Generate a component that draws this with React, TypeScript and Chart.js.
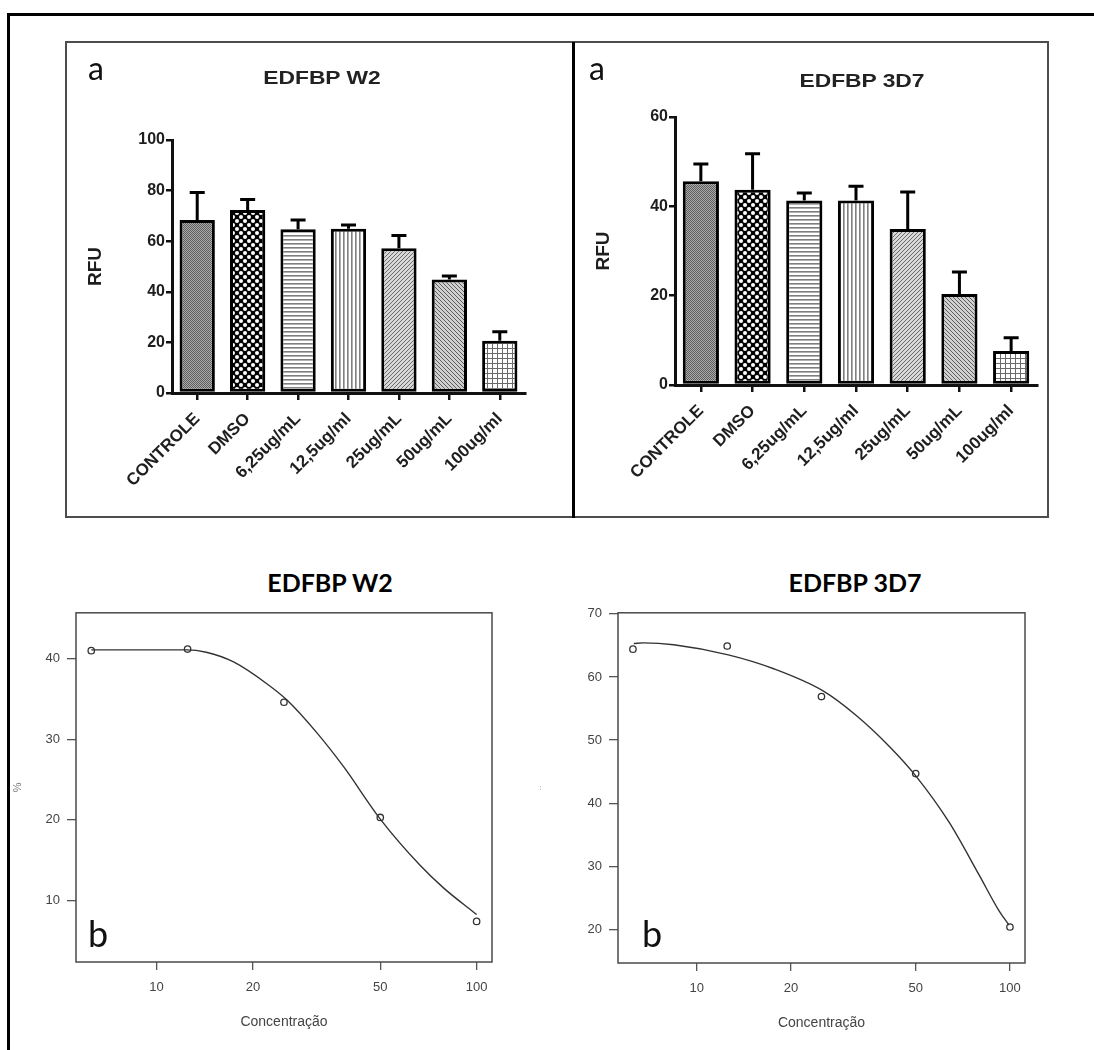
import React, { useEffect, useRef } from 'react';
import { Chart, registerables } from 'chart.js';
Chart.register(...registerables);

// ---------- DATA ----------
const barCategories = ['CONTROLE', 'DMSO', '6,25ug/mL', '12,5ug/ml', '25ug/mL', '50ug/mL', '100ug/ml'];
const w2BarMeans = [68.4, 72.3, 64.7, 64.9, 57.2, 44.9, 20.7];
const w2BarErrors = [10.8, 4.2, 3.7, 1.5, 5.1, 1.3, 3.5];
const d7BarMeans = [45.6, 43.7, 41.3, 41.3, 34.9, 20.4, 7.6];
const d7BarErrors = [3.9, 8.1, 1.7, 3.2, 8.3, 4.9, 3.0];
const w2BarTicks = [0, 20, 40, 60, 80, 100];
const d7BarTicks = [0, 20, 40, 60];

const concentrations = [6.25, 12.5, 25, 50, 100];
const w2Percent = [41.0, 41.2, 34.6, 20.3, 7.4];
const d7Percent = [64.4, 64.9, 56.9, 44.7, 20.4];
const w2CurveConc = [6.25, 9, 12.4, 14.3, 17.4, 22.1, 25.5, 31.7, 38.4, 50, 66.8, 79.1, 100];
const w2CurveValues = [41.1, 41.1, 41.1, 40.8, 39.6, 36.9, 34.9, 30.8, 26.6, 20.1, 14.3, 11.5, 8.25];
const d7CurveConc = [6.29, 6.76, 8.44, 12.6, 17.6, 25.3, 32.3, 41.2, 50.1, 63.9, 79.6, 92.2, 99.3];
const d7CurveValues = [65.3, 65.4, 65.1, 63.5, 61.3, 57.8, 53.9, 49.0, 44.3, 37.0, 28.7, 23.0, 20.7];
const logTicks = [10, 20, 50, 100];
const w2LineTicks = [10, 20, 30, 40];
const d7LineTicks = [20, 30, 40, 50, 60, 70];

const patternKinds = ['dense', 'dots', 'hlines', 'vlines', 'diagUp', 'diagDown', 'grid'];

// ---------- PATTERNS ----------
function makePattern(ctx: CanvasRenderingContext2D, kind: string): CanvasPattern {
  const c = document.createElement('canvas');
  const px = (g: CanvasRenderingContext2D, x: number, y: number, col: string, w = 1, h = 1) => {
    g.fillStyle = col;
    g.fillRect(x, y, w, h);
  };
  let g: CanvasRenderingContext2D;
  if (kind === 'dense') {
    c.width = 2; c.height = 2; g = c.getContext('2d')!;
    px(g, 0, 0, '#5e5e5e'); px(g, 1, 1, '#5e5e5e'); px(g, 1, 0, '#ababab'); px(g, 0, 1, '#ababab');
  } else if (kind === 'dots') {
    c.width = 8; c.height = 8; g = c.getContext('2d')!;
    px(g, 0, 0, '#000', 8, 8);
    g.fillStyle = '#fff';
    [[2, 2], [6, 6]].forEach(([x, y]) => { g.beginPath(); g.arc(x, y, 2, 0, Math.PI * 2); g.fill(); });
  } else if (kind === 'hlines') {
    c.width = 1; c.height = 4; g = c.getContext('2d')!;
    px(g, 0, 0, '#fff', 1, 4); px(g, 0, 0, '#808080'); px(g, 0, 1, '#b0b0b0');
  } else if (kind === 'vlines') {
    c.width = 4; c.height = 1; g = c.getContext('2d')!;
    px(g, 0, 0, '#fff', 4, 1); px(g, 0, 0, '#808080'); px(g, 1, 0, '#b0b0b0');
  } else if (kind === 'diagUp') {
    c.width = 4; c.height = 4; g = c.getContext('2d')!;
    px(g, 0, 0, '#d8d8d8', 4, 4);
    for (let i = 0; i < 4; i++) px(g, i, 3 - i, '#6a6a6a');
  } else if (kind === 'diagDown') {
    c.width = 4; c.height = 4; g = c.getContext('2d')!;
    px(g, 0, 0, '#d0d0d0', 4, 4);
    for (let i = 0; i < 4; i++) px(g, i, i, '#5e5e5e');
  } else {
    c.width = 5; c.height = 5; g = c.getContext('2d')!;
    px(g, 0, 0, '#fff', 5, 5); px(g, 0, 0, '#6a6a6a', 5, 1); px(g, 0, 0, '#6a6a6a', 1, 5);
  }
  return ctx.createPattern(c, 'repeat')!;
}

// ---------- PLUGINS ----------
const errorBarPlugin = {
  id: 'errorBars',
  afterDatasetsDraw(chart: any, _args: any, opts: any) {
    const errs: number[] = opts.errors || [];
    const meta = chart.getDatasetMeta(0);
    const y = chart.scales.y;
    const ctx = chart.ctx;
    ctx.save();
    ctx.strokeStyle = '#000';
    ctx.lineWidth = 3;
    meta.data.forEach((bar: any, i: number) => {
      const v = chart.data.datasets[0].data[i];
      const base = y.getPixelForValue(v);
      const top = y.getPixelForValue(v + errs[i]);
      ctx.beginPath();
      ctx.moveTo(bar.x, base);
      ctx.lineTo(bar.x, top);
      ctx.moveTo(bar.x - 7.5, top);
      ctx.lineTo(bar.x + 7.5, top);
      ctx.stroke();
    });
    ctx.restore();
  },
};

const framePlugin = {
  id: 'frame',
  afterDraw(chart: any) {
    const { left, top, right, bottom } = chart.chartArea;
    const ctx = chart.ctx;
    ctx.save();
    ctx.strokeStyle = '#4a4a4a';
    ctx.lineWidth = 1.5;
    ctx.strokeRect(left, top, right - left, bottom - top);
    ctx.restore();
  },
};

// ---------- CONFIG BUILDERS ----------
const boldFont = "'Liberation Sans', Arial, sans-serif";

function barConfig(ctx: CanvasRenderingContext2D, means: number[], errors: number[], ticks: number[], max: number, dims: any) {
  const patterns = patternKinds.map((k) => makePattern(ctx, k));
  return {
    type: 'bar',
    data: {
      labels: barCategories,
      datasets: [
        {
          data: means,
          backgroundColor: patterns,
          borderColor: '#000',
          borderWidth: 3,
          borderSkipped: false,
          categoryPercentage: 0.7,
          barPercentage: 1,
        },
      ],
    },
    options: {
      responsive: false,
      animation: false,
      devicePixelRatio: 1,
      layout: { padding: { left: 0, right: dims.padRight, top: dims.padTop, bottom: 0 } },
      plugins: {
        legend: { display: false },
        tooltip: { enabled: false },
        errorBars: { errors },
      },
      scales: {
        x: {
          type: 'category',
          offset: true,
          grid: { offset: false, drawOnChartArea: false, tickLength: 7, color: '#111', lineWidth: 2.5 },
          border: { color: '#111', width: 3 },
          ticks: {
            minRotation: 45,
            maxRotation: 45,
            autoSkip: false,
            padding: 9,
            color: '#1e1e1e',
            font: { family: boldFont, size: 17, weight: 'bold' },
          },
          afterFit: (s: any) => { s.height = dims.xHeight; },
        },
        y: {
          min: 0,
          max,
          afterBuildTicks: (s: any) => { s.ticks = ticks.map((v) => ({ value: v })); },
          grid: { drawOnChartArea: false, tickLength: 6, color: '#111', lineWidth: 2.5 },
          border: { color: '#111', width: 3 },
          ticks: { padding: 1, color: '#1e1e1e', font: { family: boldFont, size: 16, weight: 'bold' } },
          title: {
            display: true,
            text: 'RFU',
            color: '#1e1e1e',
            font: { family: boldFont, size: 19, weight: 'bold' },
            padding: { top: dims.titlePad, bottom: 0 },
          },
          afterFit: (s: any) => { s.width = dims.yWidth; },
        },
      },
    },
    plugins: [errorBarPlugin],
  };
}

function curveConfig(points: number[], curveX: number[], curveY: number[], yTicks: number[], ymin: number, ymax: number, dims: any) {
  const tickFont = { family: dims.fontFamily, size: 13 };
  return {
    type: 'scatter',
    data: {
      datasets: [
        {
          data: curveX.map((x, i) => ({ x, y: curveY[i] })),
          showLine: true,
          pointRadius: 0,
          borderColor: '#333',
          borderWidth: 1.4,
          cubicInterpolationMode: 'monotone',
          fill: false,
        },
        {
          data: concentrations.map((x, i) => ({ x, y: points[i] })),
          showLine: false,
          pointRadius: 3.2,
          pointBorderWidth: 1.3,
          pointBorderColor: '#333',
          pointBackgroundColor: 'rgba(255,255,255,0)',
        },
      ],
    },
    options: {
      responsive: false,
      animation: false,
      devicePixelRatio: 1,
      layout: { padding: { left: 0, right: dims.padRight, top: dims.padTop, bottom: 0 } },
      plugins: { legend: { display: false }, tooltip: { enabled: false } },
      scales: {
        x: {
          type: 'logarithmic',
          min: 5.6,
          max: 111.7,
          afterBuildTicks: (s: any) => { s.ticks = logTicks.map((v) => ({ value: v })); },
          grid: { drawOnChartArea: false, tickLength: 8, color: '#555', lineWidth: 1.3 },
          border: { display: false },
          ticks: { callback: (v: any) => String(v), maxRotation: 0, autoSkip: false, padding: 10, color: '#444', font: tickFont },
          title: {
            display: true,
            text: 'Concentração',
            color: '#444',
            font: { family: dims.fontFamily, size: 14 },
            padding: { top: 0, bottom: dims.xTitlePad },
          },
          afterFit: (s: any) => { s.height = dims.xHeight; },
        },
        y: {
          min: ymin,
          max: ymax,
          afterBuildTicks: (s: any) => { s.ticks = yTicks.map((v) => ({ value: v })); },
          grid: { drawOnChartArea: false, tickLength: 9, color: '#555', lineWidth: 1.3 },
          border: { display: false },
          ticks: { padding: 7, color: '#444', font: tickFont },
          title: {
            display: true,
            text: dims.yTitle,
            color: '#777',
            font: { family: 'Liberation Sans, sans-serif', size: dims.yTitleSize },
            padding: { top: dims.yTitlePad, bottom: 0 },
          },
          afterFit: (s: any) => { s.width = dims.yWidth; },
        },
      },
    },
    plugins: [framePlugin],
  };
}

// ---------- COMPONENTS ----------
function ChartCanvas({ left, top, width, height, build }: any) {
  const ref = useRef<HTMLCanvasElement>(null);
  useEffect(() => {
    const canvas = ref.current!;
    const ctx = canvas.getContext('2d')!;
    const chart = new Chart(canvas, build(ctx));
    return () => chart.destroy();
  }, []);
  return (
    <canvas
      ref={ref}
      width={width}
      height={height}
      style={{ position: 'absolute', left, top, width, height }}
    />
  );
}

function Label({ x, y, text, style, sx = 1 }: any) {
  return (
    <div
      style={{
        position: 'absolute',
        left: x,
        top: y,
        transform: `translate(-50%, -50%) scaleX(${sx})`,
        whiteSpace: 'nowrap',
        lineHeight: 1,
        ...style,
      }}
    >
      {text}
    </div>
  );
}

export default function App() {
  const topTitle = { fontFamily: boldFont, fontWeight: 'bold', fontSize: 19, color: '#222' };
  const bottomTitle = { fontFamily: 'Lato, "Open Sans", sans-serif', fontWeight: 'bold', fontSize: 25, color: '#000' };
  const letterA = { fontFamily: 'Lato, "Open Sans", sans-serif', fontSize: 32, color: '#111' };
  const letterB = { fontFamily: 'Lato, "Open Sans", sans-serif', fontSize: 36, color: '#111' };
  return (
    <div style={{ position: 'absolute', left: 0, top: 0, width: 1094, height: 1050, background: '#fff', overflow: 'hidden' }}>
      {/* outer frame */}
      <div style={{ position: 'absolute', left: 7, top: 13, width: 1087, height: 3, background: '#000' }} />
      <div style={{ position: 'absolute', left: 7, top: 13, width: 3, height: 1037, background: '#000' }} />
      {/* top panel box */}
      <div style={{ position: 'absolute', left: 65, top: 41, width: 980, height: 473, border: '2px solid #4d4d4d' }} />
      <div style={{ position: 'absolute', left: 572, top: 42, width: 3, height: 476, background: '#000' }} />

      <ChartCanvas
        left={67}
        top={43}
        width={505}
        height={473}
        build={(ctx: CanvasRenderingContext2D) =>
          barConfig(ctx, w2BarMeans, w2BarErrors, w2BarTicks, 100, { padRight: 47, padTop: 97, xHeight: 123, yWidth: 105, titlePad: 17 })
        }
      />
      <ChartCanvas
        left={575}
        top={43}
        width={472}
        height={473}
        build={(ctx: CanvasRenderingContext2D) =>
          barConfig(ctx, d7BarMeans, d7BarErrors, d7BarTicks, 60, { padRight: 10, padTop: 74, xHeight: 131, yWidth: 100, titlePad: 17 })
        }
      />
      <ChartCanvas
        left={10}
        top={598}
        width={530}
        height={452}
        build={() =>
          curveConfig(w2Percent, w2CurveConc, w2CurveValues, w2LineTicks, 2.36, 45.7, {
            padRight: 48, padTop: 8, xHeight: 88, yWidth: 66, xTitlePad: 19,
            yTitle: '%', yTitleSize: 11, yTitlePad: 1, fontFamily: "'Liberation Sans', Arial, sans-serif",
          })
        }
      />
      <ChartCanvas
        left={535}
        top={598}
        width={559}
        height={452}
        build={() =>
          curveConfig(d7Percent, d7CurveConc, d7CurveValues, d7LineTicks, 14.7, 70.16, {
            padRight: 69, padTop: 9, xHeight: 87, yWidth: 83, xTitlePad: 18,
            yTitle: '··', yTitleSize: 8, yTitlePad: 1, fontFamily: "'Liberation Sans Narrow', 'Liberation Sans', Arial, sans-serif",
          })
        }
      />

      <Label x={96} y={68} text="a" style={letterA} />
      <Label x={597} y={68} text="a" style={letterA} />
      <Label x={322} y={77} text="EDFBP W2" style={topTitle} sx={1.2} />
      <Label x={862} y={80} text="EDFBP 3D7" style={topTitle} sx={1.2} />
      <Label x={330} y={582} text="EDFBP W2" style={bottomTitle} />
      <Label x={855} y={582} text="EDFBP 3D7" style={bottomTitle} />
      <Label x={98} y={933} text="b" style={letterB} />
      <Label x={652} y={933} text="b" style={letterB} />
    </div>
  );
}
